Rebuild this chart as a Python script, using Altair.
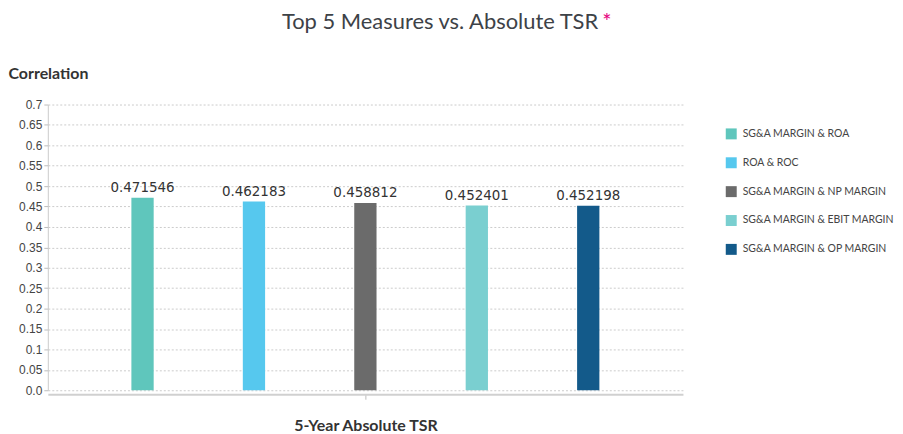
import altair as alt
import pandas as pd

series = ["SG&A MARGIN & ROA", "ROA & ROC", "SG&A MARGIN & NP MARGIN",
          "SG&A MARGIN & EBIT MARGIN", "SG&A MARGIN & OP MARGIN"]
values = [0.471546, 0.462183, 0.458812, 0.452401, 0.452198]
labels = ["0.471546", "0.462183", "0.458812", "0.452401", "0.452198"]
colors = ["#5fc6bc", "#56c8ee", "#6b6b6b", "#7acfd0", "#135a8a"]
category = "5-Year Absolute TSR"
title_text = "Top 5 Measures vs. Absolute TSR"
y_ticks = [round(i * 0.05, 2) for i in range(15)]

df = pd.DataFrame({"cat": [category] * 5, "series": series, "value": values, "label": labels})
one = pd.DataFrame({"t": [title_text]})

x = alt.X("cat:N", title=category,
          scale=alt.Scale(paddingInner=0, paddingOuter=0),
          axis=alt.Axis(labels=False, ticks=True, tickColor="#bbbbbb", tickSize=5,
                        domainColor="#d0d0d0", domainWidth=2, offset=4,
                        titleFont="Lato", titleFontSize=16, titleFontWeight="bold",
                        titleColor="#333333", titlePadding=18))
xo = alt.XOffset("series:N", sort=series,
                 scale=alt.Scale(paddingInner=0.8, paddingOuter=0.75))
y = alt.Y("value:Q", title="Correlation",
          scale=alt.Scale(domain=[0, 0.7], nice=False),
          axis=alt.Axis(values=y_ticks, labelOverlap=False,
                        labelExpr="datum.value == 0 ? '0.0' : format(datum.value, '.2~f')",
                        labelFont="Liberation Sans", labelFontSize=12, labelColor="#444444",
                        tickColor="#bbbbbb", tickSize=4, domainColor="#cccccc",
                        gridDash=[2, 2], gridColor="#cccccc",
                        titleAngle=0, titleX=-40, titleY=-31, titleAlign="left",
                        titleBaseline="middle",
                        titleFont="Lato", titleFontSize=16, titleFontWeight="bold",
                        titleColor="#333333"))
color = alt.Color("series:N", sort=series,
                  scale=alt.Scale(domain=series, range=colors),
                  legend=alt.Legend(title=None, orient="none", legendX=681, legendY=24,
                                    padding=0,
                                    symbolType="square", symbolSize=121,
                                    symbolStrokeWidth=0, rowPadding=18,
                                    labelFont="Lato", labelFontSize=10.5,
                                    labelColor="#444444", labelOffset=6))

bars = alt.Chart(df).mark_bar(opacity=1).encode(x=x, xOffset=xo, y=y, color=color)
text = alt.Chart(df).mark_text(dy=-10, font="DejaVu Sans", fontSize=13.5, color="#333333").encode(
    x=alt.X("cat:N"), xOffset=alt.XOffset("series:N", sort=series), y=y, text="label:N")
title = alt.Chart(one).mark_text(font="Lato", fontSize=22, fontWeight="normal", color="#3d4247",
                                 align="center", baseline="middle").encode(
    x=alt.value(394), y=alt.value(-83), text="t:N")
star = alt.Chart(one).mark_text(font="Lato", fontSize=22, color="#e6007e", align="left",
                                baseline="middle").encode(
    x=alt.value(557), y=alt.value(-83), text=alt.value("*"))

chart = alt.layer(bars, text, title, star).properties(
    width=638, height=287,
    padding={"left": 0, "top": 2, "right": 0, "bottom": 0},
).configure_view(stroke=None)

chart.save("out.html", embed_options={"renderer": "svg", "actions": False})
